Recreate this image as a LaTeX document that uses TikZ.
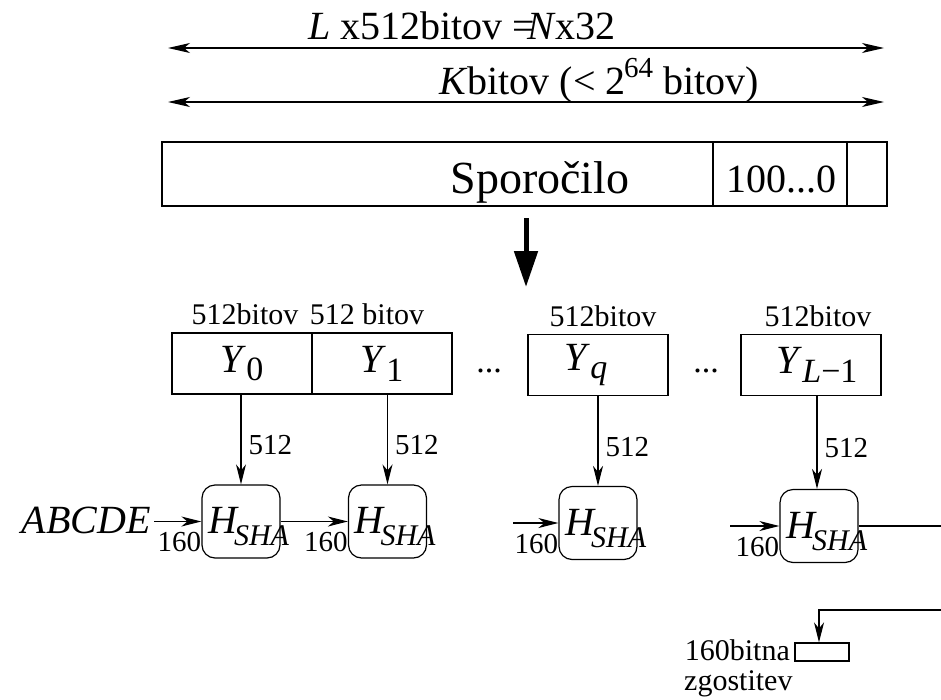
\documentclass[tikz,border=0pt]{standalone}
\usepackage{fontspec}
\setmainfont{Liberation Serif}
\usetikzlibrary{arrows.meta}
\begin{document}
\begin{tikzpicture}[x=1pt,y=-1pt,
  ln/.style={line width=1.2pt},
  tip/.style={ln,-{Stealth[length=20pt,width=10pt,inset=6pt]}},
  dtip/.style={ln,{Stealth[length=22pt,width=10pt,inset=6pt]}-{Stealth[length=22pt,width=10pt,inset=6pt]}},
  txt/.style={inner sep=0pt,font=#1},
  big/.style={txt=\fontsize{40}{44}\selectfont},
  box/.style={draw,ln,inner sep=0pt},
  hbox/.style={draw,ln,rounded corners=13pt,minimum width=78pt,minimum height=73pt,inner sep=0pt},
  ybox/.style={box,minimum width=140pt,minimum height=61pt},
  ytxt/.style={txt=\fontsize{40}{40}\selectfont},
  small/.style={txt=\fontsize{30}{30}\selectfont},
  lab/.style={txt=\fontsize{29}{29}\selectfont},
  hl/.style={txt=\fontsize{40}{40}\selectfont},
]
\useasboundingbox (0,0) rectangle (941,699);
% top dimension arrows
\coordinate (a1l) at (168,48); \coordinate (a1r) at (884,48);
\coordinate (a2l) at (168,102); \coordinate (a2r) at (884,102);
\draw[dtip] (a1l) -- (a1r);
\draw[dtip] (a2l) -- (a2r);
\node[big,anchor=base] (t1) at (462,39) {\textit{L} x512bitov =\kern-.2em\textit{N}x32};
\node[big,anchor=base] (t2) at (599,94) {\textit{K}bitov (< 2\kern-.04em\raisebox{.42em}{\fontsize{29}{29}\selectfont 64} bitov)};
% message box
\node[box,minimum width=551pt,minimum height=64pt] (msg) at (437.5,174) {};
\node[box,minimum width=134pt,minimum height=64pt] (pad) at (780,174) {};
\node[box,minimum width=40pt,minimum height=64pt] (len) at (867,174) {};
\node[txt=\fontsize{46}{46}\selectfont,anchor=base] (msgt) at (540,193) {Sporočilo};
\node[txt=\fontsize{40}{40}\selectfont,anchor=base] (padt) at (781,192) {100...0};
% thick arrow
\coordinate (thA) at (526,218); \coordinate (thB) at (526,287);
\draw[line width=5pt,-{Triangle[length=36pt,width=23pt]}] (thA) -- (thB);
% blocks
\node[ybox] (y0) at (242,363.5) {};
\node[ybox] (y1) at (382,363.5) {};
\node[ybox] (yq) at (598,365) {};
\node[ybox] (yl) at (811,365) {};
\node[ytxt] at (y0.center) {\textit{Y}\raisebox{-.22em}{\fontsize{34}{34}\selectfont 0}};
\node[ytxt] at (y1.center) {\textit{Y}\raisebox{-.22em}{\fontsize{34}{34}\selectfont 1}};
\node[ytxt] at ([xshift=-12pt]yq.center) {\textit{Y}\raisebox{-.22em}{\fontsize{34}{34}\selectfont\textit{q}}};
\node[ytxt] at ([xshift=6pt]yl.center) {\textit{Y}\raisebox{-.22em}{\fontsize{34}{34}\selectfont\textit{L}−1}};
\node[small,anchor=base] (b0) at (245,324) {512bitov};
\node[small,anchor=base] (b1) at (367,324) {512 bitov};
\node[small,anchor=base] (bq) at (603,326) {512bitov};
\node[small,anchor=base] (bl) at (818,326) {512bitov};
\node[txt=\fontsize{34}{34}\selectfont,anchor=base] (d1) at (489,372) {...};
\node[txt=\fontsize{34}{34}\selectfont,anchor=base] (d2) at (706,372) {...};
% hash boxes
\node[hbox] (h1) at (241,521.5) {};
\node[hbox] (h2) at (387.5,521.5) {};
\node[hbox] (h3) at (598,523) {};
\node[hbox] (h4) at (819,526) {};
\foreach \h in {h1,h2,h3,h4}{
  \node[hl,anchor=base west] at ([xshift=-33pt,yshift=-12pt]\h.center) {\textit{H}\kern-.12em\raisebox{-.3em}{\fontsize{30}{30}\selectfont\textit{SHA}}};
}
% vertical arrows
\draw[tip] (y0.south -| h1.north) -- (h1.north) node[lab,midway,anchor=west,xshift=7pt,yshift=-6pt] {512};
\draw[tip] (h2.north |- y1.south) -- (h2.north) node[lab,midway,anchor=west,xshift=7pt,yshift=-6pt] {512};
\draw[tip] (h3.north |- yq.south) -- (h3.north) node[lab,midway,anchor=west,xshift=7pt,yshift=-6pt] {512};
\draw[tip] ([xshift=-2pt]h4.north |- yl.south) -- ([xshift=-2pt]h4.north) node[lab,midway,anchor=west,xshift=7pt,yshift=-6pt] {512};
% chaining inputs
\node[hl,anchor=base east] (abc) at (151,533) {\textit{ABCDE}};
\coordinate (in3) at (513,523);
\coordinate (in4) at (730,526);
\draw[tip] ([xshift=3pt]abc.east |- h1.west) -- (h1.west);
\draw[tip] (h1.east) -- (h2.west);
\draw[tip] (in3) -- (h3.west);
\draw[tip] (in4) -- (h4.west);
\foreach \h in {h1,h2,h3,h4}{
  \node[lab,anchor=north east] at ([yshift=-11pt]\h.west) {160};
}
% output
\coordinate (outA) at (941,526);
\coordinate (outB) at (941,610);
\node[box,minimum width=54pt,minimum height=18pt] (hash) at (822,652) {};
\draw[ln] (h4.east) -- (outA);
\draw[tip] (outB) -| ([xshift=-3pt]hash.north);
\node[txt=\fontsize{30}{30}\selectfont,anchor=base east] (lb1) at (790,660) {160bitna};
\node[txt=\fontsize{30}{30}\selectfont,anchor=base west] (lb2) at (684,690) {zgostitev};
\end{tikzpicture}
\end{document}
